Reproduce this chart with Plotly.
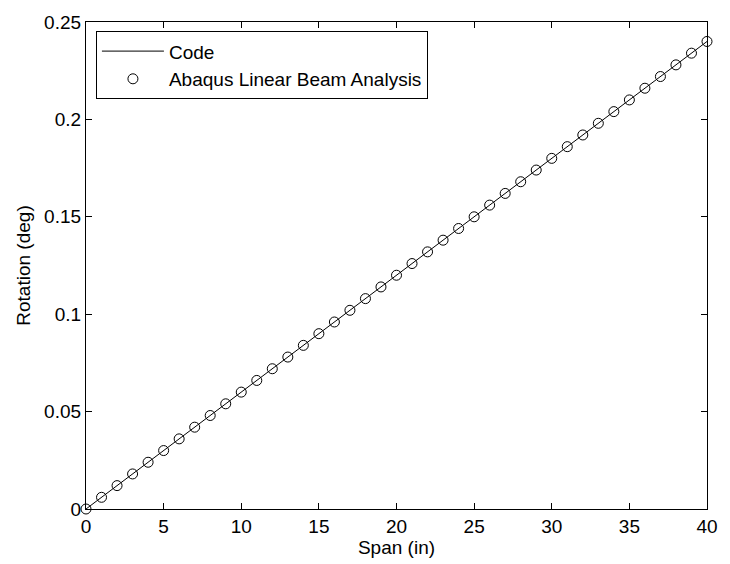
import plotly.graph_objects as go

span_in = [0, 1, 2, 3, 4, 5, 6, 7, 8, 9, 10, 11, 12, 13, 14, 15, 16, 17, 18, 19, 20,
           21, 22, 23, 24, 25, 26, 27, 28, 29, 30, 31, 32, 33, 34, 35, 36, 37, 38, 39, 40]
code_rot = [0.000, 0.006, 0.012, 0.018, 0.024, 0.030, 0.036, 0.042, 0.048, 0.054, 0.060,
            0.066, 0.072, 0.078, 0.084, 0.090, 0.096, 0.102, 0.108, 0.114, 0.120,
            0.126, 0.132, 0.138, 0.144, 0.150, 0.156, 0.162, 0.168, 0.174, 0.180,
            0.186, 0.192, 0.198, 0.204, 0.210, 0.216, 0.222, 0.228, 0.234, 0.240]
abaqus_rot = [0.000, 0.006, 0.012, 0.018, 0.024, 0.030, 0.036, 0.042, 0.048, 0.054, 0.060,
              0.066, 0.072, 0.078, 0.084, 0.090, 0.096, 0.102, 0.108, 0.114, 0.120,
              0.126, 0.132, 0.138, 0.144, 0.150, 0.156, 0.162, 0.168, 0.174, 0.180,
              0.186, 0.192, 0.198, 0.204, 0.210, 0.216, 0.222, 0.228, 0.234, 0.240]

x_ticks = [0, 5, 10, 15, 20, 25, 30, 35, 40]
x_tick_text = ["0", "5", "10", "15", "20", "25", "30", "35", "40"]
y_ticks = [0, 0.05, 0.1, 0.15, 0.2, 0.25]
y_tick_text = ["0", "0.05", "0.1", "0.15", "0.2", "0.25"]

font_family = "Liberation Sans, Arial, Helvetica, sans-serif"
fs = 19

fig = go.Figure()
fig.add_trace(go.Scatter(
    x=span_in, y=code_rot, mode="lines", name="Code",
    line=dict(color="black", width=1),
))
fig.add_trace(go.Scatter(
    x=span_in, y=abaqus_rot, mode="markers", name="Abaqus Linear Beam Analysis",
    marker=dict(symbol="circle-open", size=10, color="black", line=dict(width=1, color="black")),
    cliponaxis=False,
))

axis_common = dict(
    showgrid=False, zeroline=False, showline=True, linecolor="black", linewidth=1.3,
    mirror="allticks", ticks="inside", ticklen=6, tickcolor="black", tickwidth=1,
    tickfont=dict(family=font_family, size=fs, color="black"),
)

fig.update_layout(
    width=730, height=564,
    margin=dict(l=86, r=13, t=12, b=55),
    paper_bgcolor="white", plot_bgcolor="white",
    font=dict(family=font_family, size=fs, color="black"),
    xaxis=dict(range=[0, 40], tickvals=x_ticks, ticktext=x_tick_text,
               title=dict(text="Span (in)", standoff=2, font=dict(size=fs)), **axis_common),
    yaxis=dict(range=[0, 0.25], tickvals=y_ticks, ticktext=y_tick_text,
               title=dict(text="Rotation (deg)", standoff=8, font=dict(size=fs)), **axis_common),
    legend=dict(x=0.016, y=0.981, xanchor="left", yanchor="top",
                bordercolor="black", borderwidth=1, bgcolor="white",
                font=dict(family=font_family, size=fs, color="black"),
                itemwidth=62, tracegroupgap=0),
    showlegend=True,
)

fig.write_html("out.html", config={"displayModeBar": False},
               post_script="document.body.style.margin='0';")
